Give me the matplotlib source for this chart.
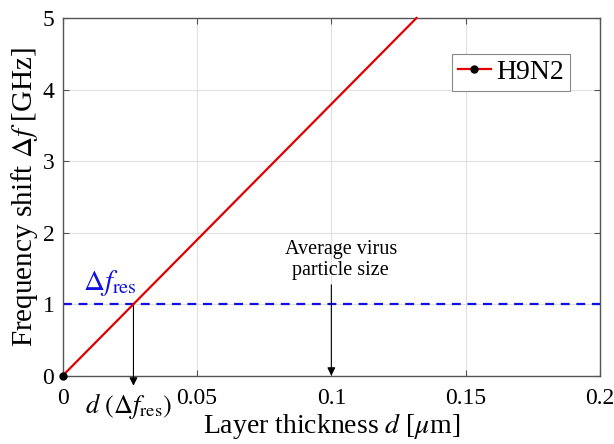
import matplotlib
matplotlib.use("Agg")
import matplotlib.pyplot as plt

plt.rcParams['font.family'] = ['Liberation Serif', 'DejaVu Serif']
plt.rcParams['mathtext.fontset'] = 'stix'

# data
thickness = [0.0, 0.1317]      # um
shift = [0.0, 5.0]             # GHz
f_res = 1.0
d_res = 0.02634
virus_size = 0.1
xticks = [0, 0.05, 0.1, 0.15, 0.2]
xtick_labels = ['0', '0.05', '0.1', '0.15', '0.2']
yticks = [0, 1, 2, 3, 4, 5]

fig = plt.figure(figsize=(6.14, 4.44), dpi=100)
ax = fig.add_axes([0.1021, 0.1538, 0.8751, 0.8057])

ax.plot(thickness, shift, color='#e00000', linewidth=1.6, marker='o',
        markersize=5, markerfacecolor='black', markeredgecolor='black',
        markevery=[0], label='H9N2', clip_on=False, zorder=5)
ax.axhline(f_res, color='#1010e0', linestyle=(0, (4, 3)), linewidth=1.6)

# arrows
ax.annotate('', xy=(d_res, -0.14), xytext=(d_res, f_res),
            arrowprops=dict(arrowstyle='-|>', color='black', lw=0.8,
                            mutation_scale=12, shrinkA=0, shrinkB=0),
            annotation_clip=False)
ax.annotate('', xy=(virus_size, 0.0), xytext=(virus_size, 1.27),
            arrowprops=dict(arrowstyle='-|>', color='black', lw=0.8,
                            mutation_scale=12, shrinkA=0, shrinkB=0),
            annotation_clip=False)

ax.text(virus_size + 0.0035, 1.62, 'Average virus\nparticle size',
        ha='center', va='center', fontsize=14.5, linespacing=1.15)
ax.text(0.0075, 1.08, r'$\Delta f_{\mathrm{res}}$', color='#1010e0',
        fontsize=21, ha='left', va='bottom')
ax.text(0.0245, -0.21, r'$d\ (\Delta f_{\mathrm{res}})$', fontsize=19,
        ha='center', va='top', clip_on=False)

ax.set_xlim(0, 0.2)
ax.set_ylim(0, 5)
ax.set_xticks(xticks)
ax.set_xticklabels(xtick_labels)
ax.set_yticks(yticks)
ax.tick_params(direction='in', top=True, right=True, labelsize=17,
               length=4, color='#555555', pad=6)
ax.tick_params(axis='x', pad=8.5)
ax.grid(True, color='#e0e0e0', linewidth=0.8)
ax.set_axisbelow(True)
for s in ax.spines.values():
    s.set_color('#555555')
    s.set_linewidth(1.0)

ax.set_xlabel(r'Layer thickness $d$ [$\mu$m]', fontsize=20, labelpad=2)
ax.set_ylabel(r'Frequency shift $\Delta f$ [GHz]', fontsize=21, labelpad=2)

leg = ax.legend(loc='upper right', bbox_to_anchor=(0.944, 0.899), fontsize=20,
                handlelength=1.2, handletextpad=0.2, borderpad=0.2,
                borderaxespad=0, fancybox=False, framealpha=1,
                edgecolor='#888888')
leg.get_frame().set_linewidth(0.8)

fig.savefig('out.png', dpi=100)
